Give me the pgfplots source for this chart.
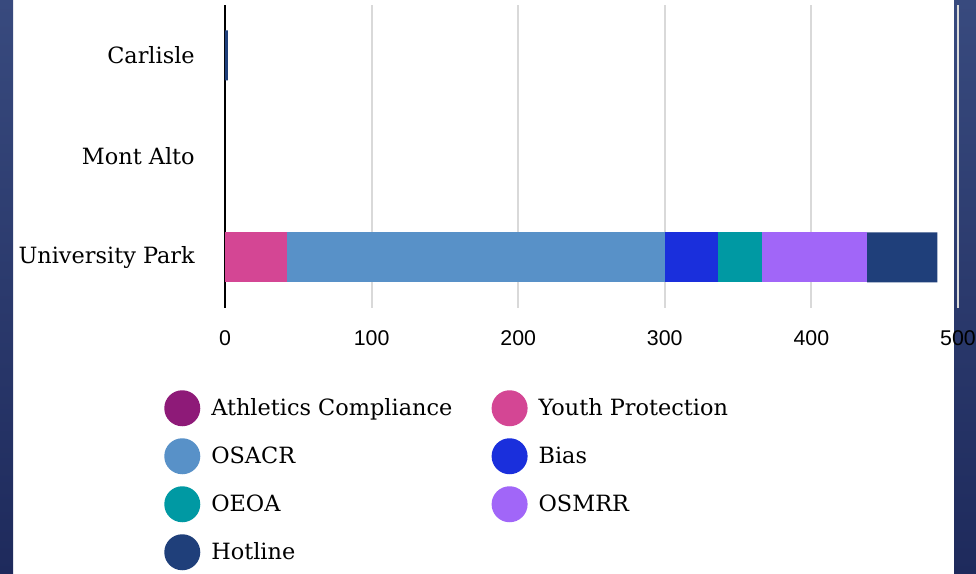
\documentclass[border=0pt]{standalone}
\usepackage{fontspec}
\setmainfont{DejaVu Serif}
\newfontfamily\tickfont{Liberation Sans}
\usepackage{pgfplots}
\pgfplotsset{compat=1.18}
\usepackage{pgfplotstable}
\definecolor{cAth}{HTML}{8E1A78}
\definecolor{cYouth}{HTML}{D44694}
\definecolor{cOSACR}{HTML}{5891C8}
\definecolor{cBias}{HTML}{1A2FDC}
\definecolor{cOEOA}{HTML}{0099A3}
\definecolor{cOSMRR}{HTML}{A166F8}
\definecolor{cHot}{HTML}{1F3F7A}
\definecolor{bgtop}{HTML}{384A7E}
\definecolor{bgbot}{HTML}{1E2A5C}
\definecolor{gridc}{HTML}{D9D9D9}
% y: 0 = University Park, 1 = Mont Alto, 2 = Carlisle
\pgfplotstableread{
y Ath Youth OSACR Bias OEOA OSMRR Hot
0 0 42 258 36 30 72 48
1 0 0 0 0 0 0 0
2 0 0 0 0 0 0 2
}\datatable
\newcommand{\lbl}[1]{\makebox[202pt][l]{#1}}
\begin{document}
\begin{tikzpicture}[x=0.75pt,y=0.75pt]
\useasboundingbox (0,0) rectangle (976,574);
\fill[white] (0,0) rectangle (976,574);
\shade[top color=bgtop, bottom color=bgbot] (0,0) rectangle (13,574);
\shade[top color=bgtop, bottom color=bgbot] (954,0) rectangle (976,574);
\begin{axis}[
  at={(168.75pt,199.5pt)}, anchor=south west,
  scale only axis, width=549.75pt, height=227.25pt,
  xbar stacked, bar width=37.5pt,
  xmin=0, xmax=500, ymin=-0.5, ymax=2.5,
  enlargelimits=false, clip=false,
  xtick={0,100,200,300,400,500},
  ytick={0,1,2},
  yticklabels={University Park, Mont Alto, Carlisle},
  major tick length=0pt,
  xmajorgrids, ymajorgrids=false,
  grid style={gridc, line width=1.4pt},
  axis line style={draw=none},
  /pgf/number format/assume math mode=true,
  xticklabel style={font=\tickfont\fontsize{16}{19}\selectfont, inner sep=0pt, anchor=north, yshift=-16.5pt},
  yticklabel style={font=\fontsize{16.8}{20}\selectfont, inner sep=0pt, anchor=east, xshift=-22.5pt},
  legend columns=2,
  legend cell align=left,
  legend image code/.code={\fill[#1] (13.5pt,0pt) circle (13.5pt);},
  legend style={at={(axis description cs:-0.0832,-0.2706)}, anchor=north west,
    draw=none, fill=none, inner sep=0pt, row sep=9pt, column sep=8.25pt,
    font=\fontsize{16.8}{20}\selectfont,
    nodes={inner sep=0pt}},
]
\addplot[fill=cAth, draw=none] table[x=Ath, y=y] {\datatable};
\addlegendentry{\lbl{Athletics Compliance}}
\addplot[fill=cYouth, draw=none] table[x=Youth, y=y] {\datatable};
\addlegendentry{\lbl{Youth Protection}}
\addplot[fill=cOSACR, draw=none] table[x=OSACR, y=y] {\datatable};
\addlegendentry{\lbl{OSACR}}
\addplot[fill=cBias, draw=none] table[x=Bias, y=y] {\datatable};
\addlegendentry{\lbl{Bias}}
\addplot[fill=cOEOA, draw=none] table[x=OEOA, y=y] {\datatable};
\addlegendentry{\lbl{OEOA}}
\addplot[fill=cOSMRR, draw=none] table[x=OSMRR, y=y] {\datatable};
\addlegendentry{\lbl{OSMRR}}
\addplot[fill=cHot, draw=none] table[x=Hot, y=y] {\datatable};
\addlegendentry{\lbl{Hotline}}
\draw[black, line width=1.8pt] (axis cs:0,-0.5) -- (axis cs:0,2.5);
\end{axis}
\end{tikzpicture}
\end{document}
